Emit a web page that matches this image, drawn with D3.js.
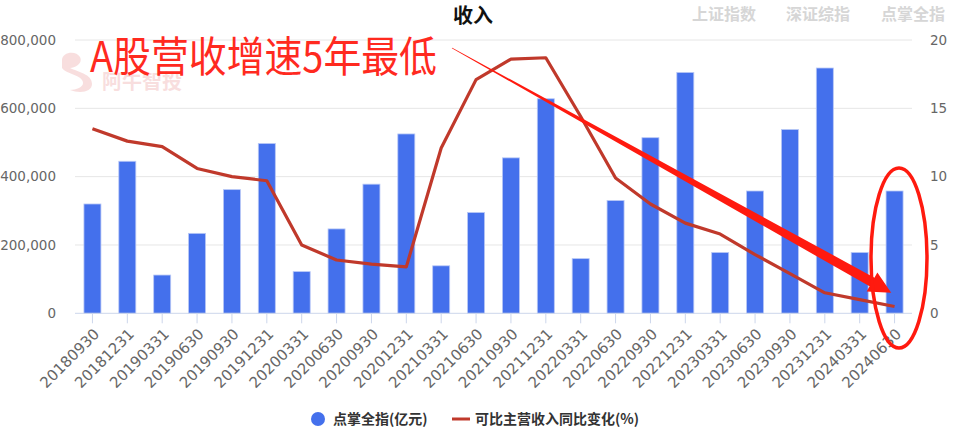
<!DOCTYPE html>
<html>
<head>
<meta charset="utf-8">
<title>收入</title>
<script src="https://cdn.jsdelivr.net/npm/d3@7"></script>
<style>
  html, body { margin: 0; padding: 0; background: #fff; }
  body { font-family: "Noto Sans CJK SC", "DejaVu Sans", sans-serif; }
  .num { font-family: "DejaVu Sans", sans-serif; fill: #666; }
</style>
</head>
<body>
<div id="chart"></div>
<script>
// quarter-end report dates
var categories = ["20180930","20181231","20190331","20190630","20190930","20191231",
  "20200331","20200630","20200930","20201231","20210331","20210630",
  "20210930","20211231","20220331","20220630","20220930","20221231",
  "20230331","20230630","20230930","20231231","20240331","20240630"];

// 点掌全指 revenue (亿元), cumulative within each year
var revenue = [320000, 445000, 112000, 234000, 362000, 497000,
  122000, 247000, 378000, 525000, 139000, 295000,
  455000, 628000, 160000, 330000, 514000, 705000,
  178000, 358000, 538000, 718000, 178000, 358000];

// 可比主营收入同比变化 (%)
var growth = [13.5, 12.6, 12.2, 10.6, 10.0, 9.7,
  5.0, 3.9, 3.6, 3.4, 12.1, 17.1,
  18.6, 18.7, 14.4, 9.9, 8.0, 6.6,
  5.8, 4.3, 2.9, 1.5, 1.0, 0.5];

var leftTicks = [0, 200000, 400000, 600000, 800000];
var rightTicks = [0, 5, 10, 15, 20];
var tabs = ["上证指数", "深证综指", "点掌全指"];

var W = 969, H = 434;
// note: "top" is reserved on window, so plot edges get their own names
var plotL = 75, plotR = 912, plotT = 40, plotB = 313.3;

var svg = d3.select("#chart").append("svg")
  .attr("width", W).attr("height", H);

var x = d3.scaleBand().domain(categories).range([plotL, plotR]);
var yL = d3.scaleLinear().domain([0, 800000]).range([plotB, plotT]);
var yR = d3.scaleLinear().domain([0, 20]).range([plotB, plotT]);

// gridlines
svg.append("g").selectAll("line")
  .data(leftTicks.slice(1))
  .enter().append("line")
  .attr("x1", plotL).attr("x2", plotR)
  .attr("y1", function (d) { return yL(d); })
  .attr("y2", function (d) { return yL(d); })
  .attr("stroke", "#e6e6e6").attr("stroke-width", 1);

// left axis labels
svg.append("g").selectAll("text")
  .data(leftTicks)
  .enter().append("text")
  .attr("class", "num")
  .attr("x", 56)
  .attr("y", function (d) { return yL(d); })
  .attr("dy", "0.35em")
  .attr("text-anchor", "end")
  .style("font-size", "13.5px")
  .text(function (d) { return d3.format(",")(d); });

// right axis labels
svg.append("g").selectAll("text")
  .data(rightTicks)
  .enter().append("text")
  .attr("class", "num")
  .attr("x", 930)
  .attr("y", function (d) { return yR(d); })
  .attr("dy", "0.35em")
  .style("font-size", "13.5px")
  .text(function (d) { return d; });

// watermark
var wm = svg.append("g").attr("opacity", 0.28);
wm.append("path")
  .attr("d", "M62,60 C62,52 76,50 80,57 C83,63 76,68 70,68 C78,72 92,74 92,84 C92,92 80,94 70,90 C78,90 86,86 82,80 C78,74 66,74 62,68 Z")
  .attr("fill", "#e88a8a");
wm.append("text")
  .attr("x", 102).attr("y", 89)
  .attr("fill", "#e88a8a")
  .style("font-size", "20px").style("font-weight", "bold")
  .text("阿牛智投");

// bars
svg.append("g").selectAll("rect")
  .data(revenue)
  .enter().append("rect")
  .attr("x", function (d, i) { return x(categories[i]) + x.bandwidth() / 2 - 8.5; })
  .attr("width", 17)
  .attr("y", function (d) { return yL(d); })
  .attr("height", function (d) { return plotB - yL(d); })
  .attr("fill", "#4470ec")
  .attr("stroke", "#b8c8f6").attr("stroke-width", 0.8);

// bottom axis line & ticks
svg.append("line")
  .attr("x1", plotL).attr("x2", plotR)
  .attr("y1", plotB).attr("y2", plotB)
  .attr("stroke", "#ccd6eb").attr("stroke-width", 1);
svg.append("g").selectAll("line")
  .data(categories)
  .enter().append("line")
  .attr("x1", function (d) { return x(d) + x.bandwidth() / 2; })
  .attr("x2", function (d) { return x(d) + x.bandwidth() / 2; })
  .attr("y1", plotB).attr("y2", plotB + 10)
  .attr("stroke", "#ccd6eb").attr("stroke-width", 1);

// x labels
svg.append("g").selectAll("text")
  .data(categories)
  .enter().append("text")
  .attr("class", "num")
  .attr("text-anchor", "end")
  .attr("dy", "0.35em")
  .attr("transform", function (d) {
    return "translate(" + (x(d) + x.bandwidth() / 2 + 4) + "," + (plotB + 18) + ") rotate(-45)";
  })
  .style("font-size", "15px")
  .text(function (d) { return d; });

// growth line
var line = d3.line()
  .x(function (d, i) { return x(categories[i]) + x.bandwidth() / 2; })
  .y(function (d) { return yR(d); });
svg.append("path")
  .datum(growth)
  .attr("d", line)
  .attr("fill", "none")
  .attr("stroke", "#c0392b")
  .attr("stroke-width", 3.2)
  .attr("stroke-linejoin", "round");

// title
svg.append("text")
  .attr("x", 473).attr("y", 23)
  .attr("text-anchor", "middle")
  .style("font-size", "20px").style("font-weight", "bold")
  .attr("fill", "#111")
  .text("收入");

// top-right tabs
svg.append("g").selectAll("text")
  .data(tabs)
  .enter().append("text")
  .attr("x", function (d, i) { return [692, 786, 881][i]; })
  .attr("y", 20)
  .style("font-size", "16px").style("font-weight", "bold")
  .attr("fill", "#d6d6d6")
  .text(function (d) { return d; });

// annotation text
svg.append("text")
  .attr("x", 90).attr("y", 72)
  .attr("fill", "#ff2a1f")
  .attr("textLength", 347).attr("lengthAdjust", "spacingAndGlyphs")
  .style("font-size", "42px")
  .text("A股营收增速5年最低");

// annotation arrow (tapered)
var p0 = [452, 48], p1 = [872, 282];
var dx = p1[0] - p0[0], dy = p1[1] - p0[1], len = Math.sqrt(dx * dx + dy * dy);
var ux = dx / len, uy = dy / len, px = -uy, py = ux;
var w0 = 0.4, w1 = 5, hw = 11, hl = 22;
var arrowPts = [
  [p0[0] + px * w0, p0[1] + py * w0],
  [p1[0] + px * w1, p1[1] + py * w1],
  [p1[0] + px * hw, p1[1] + py * hw],
  [p1[0] + ux * hl, p1[1] + uy * hl],
  [p1[0] - px * hw, p1[1] - py * hw],
  [p1[0] - px * w1, p1[1] - py * w1],
  [p0[0] - px * w0, p0[1] - py * w0]
];
svg.append("path")
  .attr("d", "M" + arrowPts.map(function (p) { return p.join(","); }).join("L") + "Z")
  .attr("fill", "#ff1a0f");

// annotation ellipse
svg.append("ellipse")
  .attr("cx", 899).attr("cy", 258)
  .attr("rx", 28).attr("ry", 90)
  .attr("fill", "none")
  .attr("stroke", "#ff1a0f").attr("stroke-width", 3.5);

// legend
var lg = svg.append("g");
lg.append("circle").attr("cx", 318).attr("cy", 419).attr("r", 7).attr("fill", "#4470ec");
lg.append("text").attr("x", 333).attr("y", 424)
  .style("font-size", "14px").style("font-weight", "bold").attr("fill", "#333")
  .text("点掌全指(亿元)");
lg.append("line").attr("x1", 452).attr("x2", 470).attr("y1", 419).attr("y2", 419)
  .attr("stroke", "#c0392b").attr("stroke-width", 3);
lg.append("text").attr("x", 475).attr("y", 424)
  .style("font-size", "14px").style("font-weight", "bold").attr("fill", "#333")
  .text("可比主营收入同比变化(%)");
</script>
</body>
</html>
